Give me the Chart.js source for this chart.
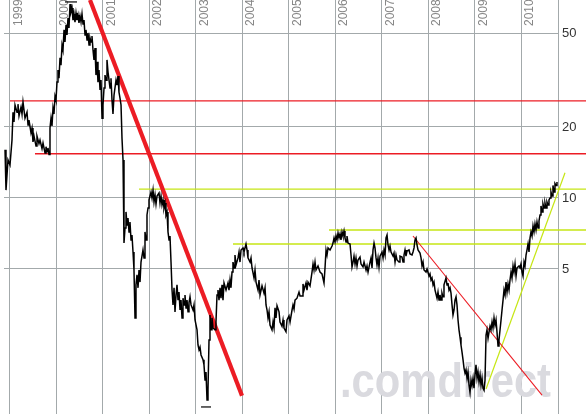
<!DOCTYPE html>
<html><head><meta charset="utf-8">
<script src="https://cdn.jsdelivr.net/npm/chart.js@4.4.0/dist/chart.umd.min.js"></script>
<style>html,body{margin:0;padding:0;background:#fff;overflow:hidden}canvas{display:block}</style>
</head><body>
<canvas id="c" width="586" height="414"></canvas>
<script>
// ---- axis labels ----
const yearTicks = [1999,2000,2001,2002,2003,2004,2005,2006,2007,2008,2009,2010];
const priceTicks = [5,10,20,50];
const xRange = [1998.871, 2010.796];
const yRange = [1.2137, 69.10];

// ---- price series (decimal year, price) ----
const priceDates = [
 1998.893,1998.914,1998.957,1999.000,1999.043,1999.065,1999.086,1999.108,1999.151,1999.172,1999.194,1999.237,1999.259,1999.280,1999.323,1999.366,1999.388,1999.409,1999.452,1999.474,1999.495,1999.517,1999.560,1999.581,1999.624,1999.646,1999.689,1999.711,1999.754,1999.775,1999.797,1999.818,1999.840,1999.861,1999.883,1999.904,1999.926,1999.947,1999.969,1999.990,
 2000.012,2000.033,2000.055,2000.077,2000.098,2000.120,2000.141,2000.163,2000.184,2000.206,2000.227,2000.249,2000.270,2000.292,2000.313,2000.335,2000.356,2000.378,2000.399,2000.421,2000.442,2000.464,2000.485,2000.507,2000.529,2000.550,2000.572,2000.593,2000.615,2000.636,2000.658,2000.679,2000.701,2000.722,2000.744,2000.765,2000.787,2000.808,2000.830,2000.851,2000.873,2000.894,2000.916,2000.938,2000.959,2000.981,
 2001.002,2001.024,2001.045,2001.067,2001.088,2001.110,2001.153,2001.174,2001.196,2001.217,2001.239,2001.282,2001.303,2001.325,2001.346,2001.368,2001.390,2001.411,2001.433,2001.454,2001.476,2001.497,2001.519,2001.540,2001.562,2001.583,2001.605,2001.626,2001.648,2001.669,2001.691,2001.712,2001.734,2001.756,2001.777,2001.799,2001.820,2001.863,2001.885,2001.906,2001.928,2001.949,2001.971,2001.992,
 2002.036,2002.057,2002.079,2002.100,2002.122,2002.143,2002.165,2002.208,2002.229,2002.251,2002.272,2002.294,2002.315,2002.337,2002.358,2002.380,2002.401,2002.423,2002.444,2002.466,2002.488,2002.509,2002.531,2002.552,2002.574,2002.595,2002.617,2002.638,2002.660,2002.681,2002.703,2002.724,2002.746,2002.767,2002.789,2002.810,2002.832,2002.853,2002.875,2002.897,2002.940,2002.961,2002.983,
 2003.026,2003.047,2003.069,2003.090,2003.112,2003.155,2003.176,2003.198,2003.219,2003.241,2003.262,2003.284,2003.305,2003.327,2003.348,2003.370,2003.413,2003.434,2003.456,2003.477,2003.499,2003.521,2003.542,2003.564,2003.585,2003.607,2003.650,2003.693,2003.714,2003.736,2003.757,2003.779,2003.800,2003.822,2003.843,2003.865,2003.908,2003.930,2003.951,2003.973,
 2004.016,2004.037,2004.080,2004.102,2004.123,2004.167,2004.188,2004.210,2004.253,2004.274,2004.296,2004.339,2004.360,2004.382,2004.425,2004.468,2004.490,2004.511,2004.533,2004.554,2004.576,2004.597,2004.640,2004.662,2004.683,2004.705,2004.726,2004.748,2004.791,2004.812,2004.855,2004.877,2004.898,2004.941,2004.963,
 2005.006,2005.028,2005.071,2005.092,2005.114,2005.135,2005.178,2005.221,2005.243,2005.286,2005.307,2005.329,2005.372,2005.393,2005.415,2005.458,2005.501,2005.523,2005.544,2005.566,2005.587,2005.630,2005.673,2005.716,2005.759,2005.781,2005.803,2005.824,2005.846,2005.889,2005.932,2005.953,2005.975,2005.996,
 2006.018,2006.039,2006.061,2006.082,2006.104,2006.125,2006.147,2006.168,2006.190,2006.211,2006.233,2006.254,2006.276,2006.319,2006.341,2006.362,2006.384,2006.405,2006.427,2006.448,2006.470,2006.491,2006.534,2006.556,2006.599,2006.621,2006.664,2006.685,2006.707,2006.750,2006.771,2006.793,2006.814,2006.836,2006.857,2006.879,2006.900,2006.922,2006.943,2006.965,
 2007.008,2007.030,2007.051,2007.073,2007.094,2007.116,2007.137,2007.159,2007.180,2007.202,2007.245,2007.266,2007.288,2007.309,2007.331,2007.374,2007.395,2007.438,2007.460,2007.481,2007.503,2007.524,2007.546,2007.589,2007.611,2007.654,2007.675,2007.697,2007.718,2007.740,2007.761,2007.783,2007.826,2007.848,2007.869,2007.891,2007.912,2007.955,2007.977,
 2008.020,2008.041,2008.063,2008.084,2008.106,2008.127,2008.149,2008.192,2008.213,2008.235,2008.256,2008.278,2008.299,2008.321,2008.342,2008.385,2008.407,2008.428,2008.450,2008.472,2008.493,2008.515,2008.536,2008.558,2008.579,2008.601,2008.622,2008.644,2008.665,2008.687,2008.708,2008.730,2008.752,2008.773,2008.795,2008.816,2008.838,2008.859,2008.881,2008.902,2008.924,2008.945,2008.967,2008.988,
 2009.010,2009.031,2009.053,2009.074,2009.096,2009.118,2009.139,2009.161,2009.182,2009.204,2009.225,2009.247,2009.268,2009.290,2009.311,2009.333,2009.354,2009.376,2009.397,2009.419,2009.440,2009.462,2009.483,2009.505,2009.526,2009.548,2009.570,2009.591,2009.613,2009.634,2009.656,2009.677,2009.699,2009.720,2009.742,2009.763,2009.785,2009.806,2009.828,2009.849,2009.871,2009.893,2009.914,2009.957,2009.979,
 2010.000,2010.022,2010.043,2010.065,2010.086,2010.108,2010.129,2010.151,2010.172,2010.194,2010.215,2010.237,2010.258,2010.280,2010.301,2010.323,2010.344,2010.366,2010.387,2010.409,2010.430,2010.452,2010.473,2010.495,2010.516,2010.538,2010.559,2010.581,2010.602,2010.624,2010.645,2010.667,2010.688,2010.710,2010.731,2010.753,2010.774
];
const priceValues = [
 16.0,10.8,14.5,13.8,17.6,23.1,21.0,24.8,23.1,25.0,22.3,24.3,22.7,25.5,21.8,23.1,20.4,21.4,18.9,19.8,17.3,18.3,16.6,18.3,17.0,17.6,16.2,17.1,15.5,16.5,15.7,16.3,15.3,19.8,21.8,20.2,24.1,22.7,27.0,26.0,
 31.0,34.9,32.2,39.3,36.6,44.5,42.4,51.6,45.9,54.1,49.1,57.9,52.6,66.4,61.5,63.9,56.8,60.3,55.7,60.9,56.8,59.7,55.2,59.1,55.7,60.3,54.6,56.8,49.1,51.6,46.8,50.1,44.5,47.7,45.9,48.6,42.4,38.5,43.2,33.2,37.8,31.0,34.9,28.7,31.6,21.8,
 24.8,29.3,33.2,31.6,38.5,34.2,29.3,32.2,26.0,22.7,27.3,31.6,30.1,32.9,28.1,26.5,24.8,17.9,14.5,6.44,7.46,8.73,7.69,8.23,7.18,7.91,6.64,6.97,5.90,4.95,3.10,4.28,4.72,4.16,4.95,4.40,5.35,6.02,5.57,7.18,6.64,8.47,9.07,9.81,
 10.6,10.0,10.8,9.62,10.3,9.43,10.2,10.5,9.52,10.2,9.34,9.81,9.07,9.52,8.47,8.73,7.18,6.64,6.90,5.35,4.07,3.52,4.16,3.29,3.88,4.28,3.69,3.99,3.35,3.69,3.10,3.76,3.52,3.88,3.42,3.69,3.29,3.59,3.81,3.52,3.35,3.52,3.04,
 2.76,2.38,2.27,2.33,2.16,2.06,1.96,1.69,1.83,1.39,1.53,2.50,3.19,2.76,3.10,2.81,2.76,2.98,3.88,4.07,3.69,4.16,3.76,4.28,3.69,4.36,4.07,4.36,4.07,4.49,4.16,4.85,5.35,5.05,5.73,5.20,5.57,5.90,5.35,6.02,
 6.14,5.90,6.38,6.02,5.57,5.35,5.57,5.05,4.58,4.95,4.40,4.07,4.49,3.88,4.24,3.95,4.16,3.52,3.35,3.10,3.29,2.89,2.76,2.98,2.81,3.42,3.10,3.49,3.29,2.98,2.86,3.04,2.81,2.71,3.04,
 3.16,2.98,3.35,3.52,3.38,3.69,3.76,3.99,3.84,3.84,4.32,4.07,4.36,4.07,4.40,4.24,4.85,5.25,4.95,5.35,4.95,5.15,4.85,4.77,4.36,5.05,6.02,5.73,6.14,6.02,6.26,6.44,6.77,6.51,
 6.90,6.64,7.11,6.77,7.04,6.64,7.18,6.90,7.25,6.77,6.51,6.90,6.44,6.38,5.73,5.10,5.35,5.67,5.25,5.57,5.15,5.46,5.62,5.25,5.10,5.35,4.95,5.15,4.85,5.35,5.57,5.05,6.02,6.44,6.14,5.57,5.20,5.57,5.10,5.67,
 5.90,5.57,6.02,5.73,6.77,6.97,6.32,6.02,6.26,5.90,5.67,5.84,5.35,5.73,5.46,5.35,5.67,5.62,5.35,5.73,6.02,5.67,5.96,6.02,5.79,5.73,5.90,6.14,6.64,6.77,6.32,6.02,5.84,5.57,5.15,5.35,4.95,4.85,5.00,
 4.67,4.77,4.49,4.58,4.28,4.40,4.07,3.76,3.99,3.69,3.88,3.69,3.95,3.81,4.28,4.58,4.28,4.36,4.07,4.16,3.95,3.52,3.19,3.35,3.69,3.81,3.52,3.04,2.76,2.57,2.38,2.22,2.06,1.90,1.81,1.87,1.72,1.83,1.61,1.50,1.69,1.60,1.72,1.56,
 1.78,1.96,1.72,1.83,1.66,1.78,1.61,1.72,1.56,1.53,1.69,2.62,2.76,2.54,2.70,2.86,2.76,2.98,2.81,3.10,2.89,3.04,2.70,2.36,2.50,2.76,3.04,3.35,3.69,4.07,3.88,4.40,3.99,4.32,4.07,4.49,4.85,4.58,5.15,4.85,5.25,4.67,5.05,5.15,5.05,
 5.25,4.85,4.67,5.35,5.15,5.73,6.02,6.38,5.90,6.77,7.18,6.90,7.61,7.18,7.76,7.32,7.91,7.46,7.99,8.47,9.25,8.73,9.43,9.07,9.52,9.07,9.62,9.34,9.81,10.0,10.6,10.2,11.3,10.6,11.5,11.3,11.7
];

// ---- drawn trend lines and levels ----
const redLevels = [25.8, 15.4];
const redLevelStarts = [1999.000, 1999.538];
const greenLevels = [10.9, 7.32, 6.38];
const greenLevelStarts = [2001.777, 2005.867, 2003.800];
const levelEnd = 2011.4;
const redTrendDates = [2000.722, 2003.994];
const redTrendValues = [69.1, 1.45];
const redThinTrendDates = [2007.675, 2010.452];
const redThinTrendValues = [6.90, 1.46];
const greenTrendDates = [2009.247, 2010.947];
const greenTrendValues = [1.55, 12.8];
const highMarkDates = [2000.184, 2000.442];
const highMarkValue = 67.8;
const lowMarkDates = [2003.112, 2003.327];
const lowMarkValue = 1.30;

if (priceDates.length !== priceValues.length) console.error('length mismatch', priceDates.length, priceValues.length);
const n = Math.min(priceDates.length, priceValues.length);
const pricePoints = [];
for (let i = 0; i < n; i++) pricePoints.push({x: priceDates[i], y: priceValues[i]});

const RED = '#ec1c24', GREEN = '#c6e614';
const lineDs = (data, color, width, extra) => Object.assign({
  data, borderColor: color, borderWidth: width, pointRadius: 0, tension: 0,
  fill: false, clip: false, spanGaps: false
}, extra || {});

const datasets = [
  lineDs(pricePoints, '#000', 1.5, {clip: undefined}),
  lineDs(highMarkDates.map(d => ({x: d, y: highMarkValue})), '#000', 1.2),
  lineDs([{x: lowMarkDates[0], y: lowMarkValue}, {x: lowMarkDates[1], y: lowMarkValue}], '#000', 1.2),
  lineDs(redTrendDates.map((d, i) => ({x: d, y: redTrendValues[i]})), RED, 4.2),
  lineDs(redThinTrendDates.map((d, i) => ({x: d, y: redThinTrendValues[i]})), RED, 1.1),
  lineDs(greenTrendDates.map((d, i) => ({x: d, y: greenTrendValues[i]})), GREEN, 1.2),
];
redLevels.forEach((v, i) => datasets.push(lineDs([{x: redLevelStarts[i], y: v}, {x: levelEnd, y: v}], RED, 1.4)));
greenLevels.forEach((v, i) => datasets.push(lineDs([{x: greenLevelStarts[i], y: v}, {x: levelEnd, y: v}], GREEN, 1.4)));

const FONT = '"Liberation Sans", Arial, sans-serif';
const GRID = '#a3a9ab';

const decor = {
  id: 'decor',
  beforeDatasetsDraw(chart) {
    const {ctx, scales: {x}} = chart;
    // watermark
    ctx.save();
    ctx.font = 'bold 48px ' + FONT;
    const txt = '.comdirect';
    const w = ctx.measureText(txt).width;
    ctx.translate(340, 397);
    ctx.scale(211 / w, 1);
    ctx.fillStyle = '#dadadf';
    ctx.textBaseline = 'alphabetic';
    ctx.fillText(txt, 0, 0);
    ctx.restore();
    // rotated year labels
    ctx.save();
    ctx.font = '12px ' + FONT;
    ctx.fillStyle = '#868686';
    ctx.textBaseline = 'alphabetic';
    ctx.textAlign = 'left';
    yearTicks.forEach(yr => {
      const px = Math.round(x.getPixelForValue(yr));
      ctx.save();
      ctx.translate(px + 12, 26);
      ctx.rotate(-Math.PI / 2);
      ctx.fillText(String(yr), 0, 0);
      ctx.restore();
    });
    ctx.restore();
  }
};

new Chart(document.getElementById('c'), {
  type: 'line',
  data: {datasets},
  plugins: [decor],
  options: {
    responsive: false,
    animation: false,
    devicePixelRatio: 1,
    events: [],
    layout: {padding: {left: 4, right: 0, top: 0, bottom: 0}},
    plugins: {legend: {display: false}, tooltip: {enabled: false}},
    scales: {
      x: {
        type: 'linear', position: 'bottom', bounds: 'data',
        min: xRange[0], max: xRange[1],
        afterBuildTicks: s => { s.ticks = yearTicks.map(v => ({value: v})); },
        afterFit: s => { s.height = 0; s.paddingLeft = 0; s.paddingRight = 0; s.paddingTop = 0; s.paddingBottom = 0; },
        ticks: {display: false},
        grid: {color: GRID, drawTicks: false, lineWidth: 1},
        border: {display: false}
      },
      y: {
        type: 'logarithmic', position: 'right', bounds: 'data',
        min: yRange[0], max: yRange[1],
        afterBuildTicks: s => { s.ticks = priceTicks.map(v => ({value: v})); },
        afterFit: s => { s.width = 28; s.paddingTop = 0; s.paddingBottom = 0; s.paddingLeft = 0; s.paddingRight = 0; },
        ticks: {
          color: '#333', padding: 4, font: {family: FONT, size: 13},
          callback: v => String(v)
        },
        grid: {color: GRID, drawTicks: false, lineWidth: 1},
        border: {display: true, color: GRID, width: 1}
      }
    }
  }
});
</script>
</body></html>
